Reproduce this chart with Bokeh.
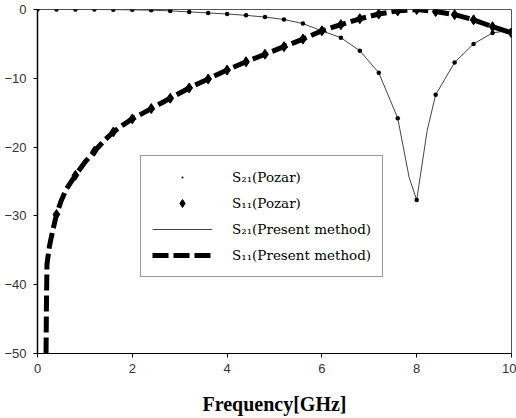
from bokeh.plotting import figure
from bokeh.models import Range1d, FixedTicker, Legend, LegendItem
from bokeh.embed import file_html
from bokeh.resources import INLINE

# S21 (Pozar) sample points, every 0.4 GHz
s21_pozar_f = [0.0, 0.4, 0.8, 1.2, 1.6, 2.0, 2.4, 2.8, 3.2, 3.6, 4.0, 4.4, 4.8,
               5.2, 5.6, 6.0, 6.4, 6.8, 7.2, 7.6, 8.0, 8.4, 8.8, 9.2, 9.6, 10.0]
s21_pozar_db = [0.0, 0.0, 0.0, 0.0, -0.02, -0.05, -0.1, -0.2, -0.35, -0.5, -0.65, -0.85, -1.1,
                -1.45, -2.05, -3.1, -4.1, -6.0, -9.2, -15.8, -27.7, -12.4, -7.7, -5.0, -3.4, -3.0]

# S11 (Pozar) sample points
s11_pozar_f = [0.4, 0.8, 1.2, 1.6, 2.0, 2.4, 2.8, 3.2, 3.6, 4.0, 4.4, 4.8,
               5.2, 5.6, 6.0, 6.4, 6.8, 7.2, 7.6, 8.0, 8.4, 8.8, 9.2, 9.6, 10.0]
s11_pozar_db = [-29.8, -24.1, -20.6, -17.8, -15.9, -14.4, -12.9, -11.4, -10.1, -8.8, -7.6, -6.5,
                -5.4, -4.3, -3.1, -2.2, -1.35, -0.65, -0.2, 0.0, -0.3, -0.75, -1.5, -2.5, -3.4]

# S21 (Present method) curve
s21_line_f = [0.0, 0.4, 0.8, 1.2, 1.6, 2.0, 2.4, 2.8, 3.2, 3.6, 4.0, 4.4, 4.8,
              5.2, 5.6, 6.0, 6.4, 6.8, 7.2, 7.6, 7.84, 8.0, 8.22, 8.4, 8.8, 9.2, 9.6, 10.0]
s21_line_db = [0.0, 0.0, 0.0, 0.0, -0.02, -0.05, -0.1, -0.2, -0.35, -0.5, -0.65, -0.85, -1.1,
               -1.45, -2.05, -3.1, -4.1, -6.0, -9.2, -15.8, -24.4, -27.7, -17.6, -12.4, -7.7, -5.0, -3.4, -3.0]

# S11 (Present method) curve
s11_line_f = [0.18, 0.19, 0.2, 0.25, 0.3, 0.4, 0.5, 0.6, 0.8, 1.0, 1.2, 1.4, 1.6, 1.8, 2.0,
              2.4, 2.8, 3.2, 3.6, 4.0, 4.4, 4.8, 5.2, 5.6, 6.0, 6.4, 6.8, 7.2, 7.6, 8.0,
              8.4, 8.8, 9.2, 9.6, 10.0]
s11_line_db = [-50.0, -42.0, -37.0, -34.5, -32.8, -29.8, -27.8, -26.2, -24.1, -22.2, -20.6, -19.1, -17.8, -16.8, -15.9,
               -14.4, -12.9, -11.4, -10.1, -8.8, -7.6, -6.5, -5.4, -4.3, -3.1, -2.2, -1.35, -0.65, -0.2, 0.0,
               -0.3, -0.75, -1.5, -2.5, -3.4]

x_ticks = [0, 2, 4, 6, 8, 10]
y_ticks = [-50, -40, -30, -20, -10, 0]
x_label = "Frequency[GHz]"
legend_labels = ["S\u2082\u2081(Pozar)", "S\u2081\u2081(Pozar)",
                 "S\u2082\u2081(Present method)", "S\u2081\u2081(Present method)"]

p = figure(width=516, height=418, output_backend="svg", toolbar_location=None,
           x_range=Range1d(0, 10), y_range=Range1d(-50, 0),
           min_border_left=37, min_border_right=5, min_border_top=9, min_border_bottom=65)

p.xgrid.visible = False
p.ygrid.visible = False
p.outline_line_color = "#555555"
p.outline_line_width = 1
p.background_fill_color = "white"
p.border_fill_color = "white"

r_s21_line = p.line(s21_line_f, s21_line_db, line_color="#444444", line_width=1)
r_s11_pts = p.scatter(s11_pozar_f, s11_pozar_db, marker="diamond", size=10, color="black")
r_s11_line = p.line(s11_line_f, s11_line_db, line_color="black", line_width=5,
                    line_dash="16 5")
r_s21_pts = p.scatter(s21_pozar_f, s21_pozar_db, marker="dot", size=18, color="black")

for ax in (p.xaxis[0], p.yaxis[0]):
    ax.minor_tick_line_color = None
    ax.major_tick_line_color = "black"
    ax.axis_line_color = "black"
    ax.major_label_text_font = "Liberation Sans"
    ax.major_label_text_font_size = "13px"
    ax.major_label_text_color = "#333333"

p.xaxis.ticker = FixedTicker(ticks=x_ticks)
p.yaxis.ticker = FixedTicker(ticks=y_ticks)
p.xaxis.major_tick_out = 4
p.xaxis.major_tick_in = 0
p.xaxis.major_label_standoff = 6
p.yaxis.major_tick_out = 4
p.yaxis.major_tick_in = 0
p.yaxis.major_label_standoff = 7
p.yaxis.axis_line_width = 1.5

p.xaxis.axis_label = x_label
p.xaxis.axis_label_text_font = "Liberation Serif"
p.xaxis.axis_label_text_font_style = "bold"
p.xaxis.axis_label_text_font_size = "20px"
p.xaxis.axis_label_text_color = "black"
p.xaxis.axis_label_standoff = 17

legend = Legend(items=[
    LegendItem(label=legend_labels[0], renderers=[r_s21_pts]),
    LegendItem(label=legend_labels[1], renderers=[r_s11_pts]),
    LegendItem(label=legend_labels[2], renderers=[r_s21_line]),
    LegendItem(label=legend_labels[3], renderers=[r_s11_line]),
], location=(103, 76))
legend.label_text_font = "DejaVu Serif"
legend.label_text_font_size = "13.5px"
legend.label_text_color = "black"
legend.glyph_width = 60
legend.glyph_height = 20
legend.label_height = 20
legend.label_standoff = 20
legend.spacing = 6
legend.padding = 11
legend.margin = 0
legend.border_line_color = "#333333"
legend.border_line_width = 1
legend.background_fill_color = "white"
legend.background_fill_alpha = 1.0
p.add_layout(legend, "center")

open("out.html", "w").write(file_html(p, INLINE))
